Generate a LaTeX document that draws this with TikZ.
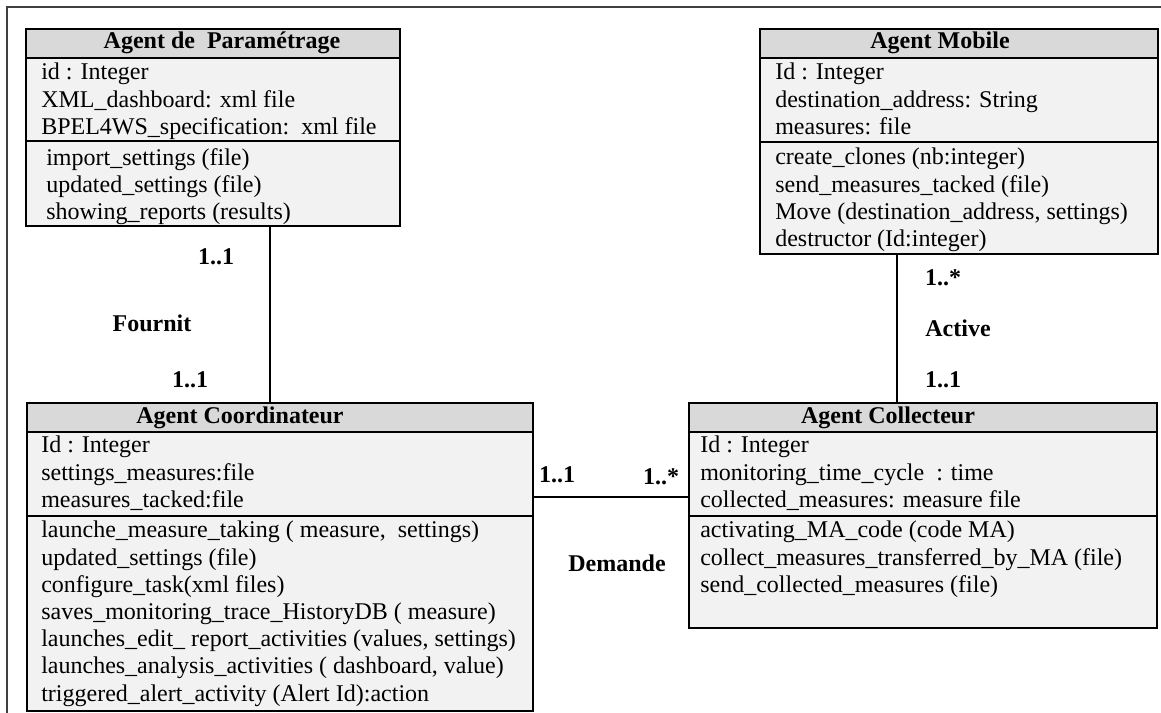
\documentclass[tikz,border=0pt]{standalone}
\usepackage{fontspec}
\setmainfont{Liberation Serif}
\usepackage{xcolor}
\usetikzlibrary{calc,fit,positioning}

\definecolor{fondtitre}{HTML}{D9D9D9}
\definecolor{fondcorps}{HTML}{F2F2F2}

\begin{document}
\begin{tikzpicture}[x=0.75pt, y=-0.75pt]
			\tikzstyle{comp}=[draw, line width=1.5pt, inner sep=0pt, fill=fondcorps]
			\tikzstyle{tete}=[comp, fill=fondtitre]
			\tikzstyle{txt}=[anchor=north west, inner sep=0pt, align=left, font=\fontsize{18}{20.4}\selectfont]
			\tikzstyle{titre}=[inner sep=0pt, font=\fontsize{18}{20.4}\selectfont\bfseries]
			\tikzstyle{lien}=[line width=1.5pt]
			
			\useasboundingbox (0,0) rectangle (1161,713);
			\draw[line width=1.2pt, black!75] (1161,7) -- (7,7) -- (7,713);
			
			% Agent de Parametrage
			\node[tete, fit={(26,29) (400,58)}]   (paramH) {};
			\node[comp, fit={(26,58) (400,141)}]  (paramA) {};
			\node[comp, fit={(26,141) (400,226)}] (paramM) {};
			\node[titre] (paramT) at (222,43) {Agent de\ \ Paramétrage};
			\node[txt] (paramAt) at (41,63) {id : Integer\\XML\_dashboard: xml file\\BPEL4WS\_specification:\ \ xml file};
			\node[txt] (paramMt) at (46,148) {import\_settings (file)\\updated\_settings (file)\\showing\_reports (results)};
			
			% Agent Mobile
			\node[tete, fit={(760,29) (1158,58)}]   (mobileH) {};
			\node[comp, fit={(760,58) (1158,142)}]  (mobileA) {};
			\node[comp, fit={(760,142) (1158,254)}] (mobileM) {};
			\node[titre] (mobileT) at (940,43) {Agent Mobile};
			\node[txt] (mobileAt) at (775,63) {Id : Integer\\destination\_address: String\\measures: file};
			\node[txt] (mobileMt) at (775,148) {create\_clones (nb:integer)\\send\_measures\_tacked (file)\\Move (destination\_address, settings)\\destructor (Id:integer)};
			
			% Agent Coordinateur
			\node[tete, fit={(27,403) (533,432)}]  (coordH) {};
			\node[comp, fit={(27,432) (533,516)}]  (coordA) {};
			\node[comp, fit={(27,516) (533,711)}]  (coordM) {};
			\node[titre] (coordT) at (240,418) {Agent Coordinateur};
			\node[txt] (coordAt) at (41,436) {Id : Integer\\settings\_measures:file\\measures\_tacked:file};
			\node[txt] (coordMt) at (41,521) {launche\_measure\_taking ( measure,\ \ settings)\\updated\_settings (file)\\configure\_task(xml files)\\saves\_monitoring\_trace\_HistoryDB ( measure)\\launches\_edit\_ report\_activities (values, settings)\\launches\_analysis\_activities ( dashboard, value)\\triggered\_alert\_activity (Alert Id):action};
			
			% Agent Collecteur
			\node[tete, fit={(689,403) (1157,432)}] (colleH) {};
			\node[comp, fit={(689,432) (1157,516)}] (colleA) {};
			\node[comp, fit={(689,516) (1157,628)}] (colleM) {};
			\node[titre] (colleT) at (888,418) {Agent Collecteur};
			\node[txt] (colleAt) at (700,436) {Id : Integer\\monitoring\_time\_cycle\ \ : time\\collected\_measures: measure file};
			\node[txt] (colleMt) at (700,521) {activating\_MA\_code (code MA)\\collect\_measures\_transferred\_by\_MA (file)\\send\_collected\_measures (file)};
			
			% associations
			\draw[lien] ([xshift=42.75pt]paramM.south) -- ([xshift=42.75pt]paramM.south |- coordH.north);
			\draw[lien] ([xshift=-46.5pt]mobileM.south) -- ([xshift=-46.5pt]mobileM.south |- colleH.north);
			\draw[lien] ([yshift=-17.25pt]coordA.east) -- ([yshift=-17.25pt]colleA.west);
			
			\node[titre] (m1) at (216,257) {1..1};
			\node[titre] (r1) at (152,323) {Fournit};
			\node[titre] (m2) at (190,380) {1..1};
			
			\node[titre] (m3) at (943,278) {1..*};
			\node[titre] (r2) at (958,328) {Active};
			\node[titre] (m4) at (943,380) {1..1};
			
			\node[titre] (m5) at (557,475) {1..1};
			\node[titre] (m6) at (661,477) {1..*};
			\node[titre] (r3) at (617,563) {Demande};
\end{tikzpicture}
\end{document}
